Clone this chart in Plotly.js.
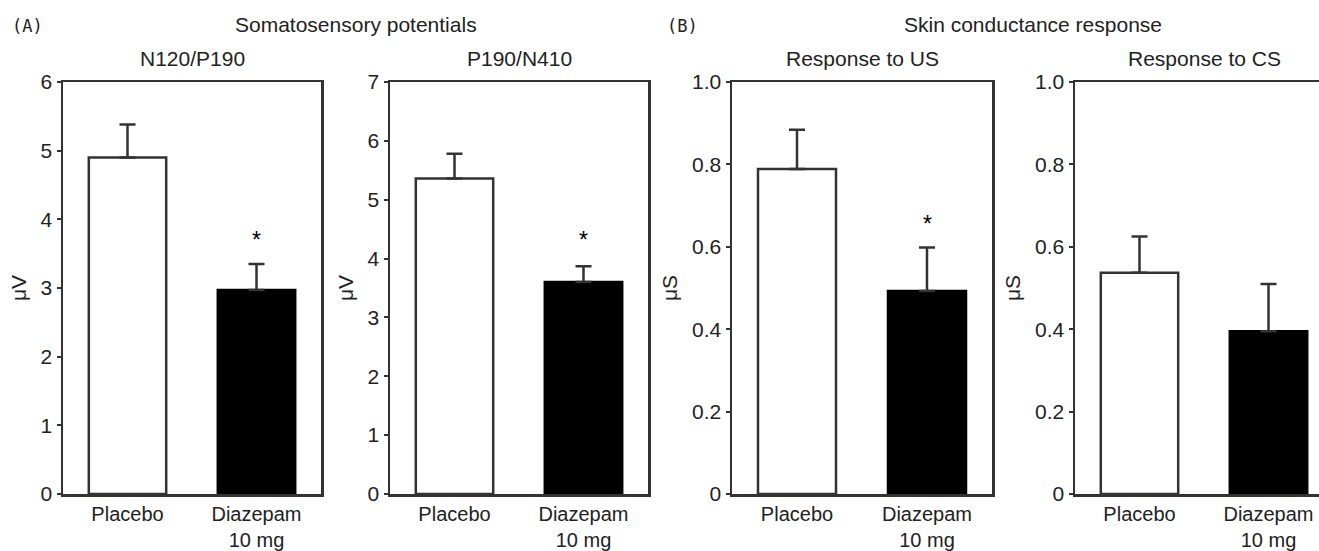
<!DOCTYPE html>
<html>
<head>
<meta charset="utf-8">
<script src="https://cdn.plot.ly/plotly-3.0.1.min.js"></script>
<style>
html, body { margin: 0; padding: 0; overflow: hidden; background: #fff; }
#chart { width: 1340px; height: 551px; }
</style>
</head>
<body>
<div id="chart"></div>
<script>
// ---- data ----
const categories = ["Placebo", "Diazepam<br>10 mg"];

const n120Means = [4.90, 2.97];
const n120Errors = [0.48, 0.38];

const p190Means = [5.36, 3.60];
const p190Errors = [0.42, 0.27];

const usMeans = [0.789, 0.493];
const usErrors = [0.095, 0.105];

const csMeans = [0.537, 0.395];
const csErrors = [0.088, 0.115];

const panelTitles = ["N120/P190", "P190/N410", "Response to US", "Response to CS"];
const groupTitles = ["Somatosensory potentials", "Skin conductance response"];
const panelLetters = ["(A)", "(B)"];
const yUnits = ["μV", "μV", "μS", "μS"];

const uvTicks1 = [0, 1, 2, 3, 4, 5, 6];
const uvTicks2 = [0, 1, 2, 3, 4, 5, 6, 7];
const usTickVals = [0, 0.2, 0.4, 0.6, 0.8, 1.0];
const usTickText = ["0", "0.2", "0.4", "0.6", "0.8", "1.0"];

// significance markers: [panel index, category index, y position]
const starMarks = [[0, 1, 3.70], [1, 1, 4.31], [2, 1, 0.655]];

// ---- layout helpers ----
const W = 1340, H = 551;
const FONT = "Arial, 'Liberation Sans', sans-serif";
const FS = 21;
const TXT = "#222";
const LINE = "#333";
const panelPx = [[63, 321], [390, 648], [732, 992], [1075, 1333]];
const yDom = [(H - 494) / H, (H - 82) / H];

const means = [n120Means, p190Means, usMeans, csMeans];
const errs = [n120Errors, p190Errors, usErrors, csErrors];

const traces = [];
means.forEach((m, i) => {
  const xa = i === 0 ? "x" : "x" + (i + 1);
  const ya = i === 0 ? "y" : "y" + (i + 1);
  traces.push({
    type: "bar",
    x: categories,
    y: m,
    xaxis: xa, yaxis: ya,
    width: 0.6,
    marker: { color: ["#ffffff", "#000000"], line: { color: [LINE, "#000"], width: 2.5 } },
    error_y: {
      type: "data", array: errs[i], arrayminus: [0, 0], symmetric: false,
      color: LINE, thickness: 2.5, width: 8
    },
    hoverinfo: "skip",
    showlegend: false
  });
});

const layout = {
  width: W, height: H,
  margin: { l: 0, r: 0, t: 0, b: 0, pad: 0 },
  paper_bgcolor: "#fff", plot_bgcolor: "#fff",
  font: { family: FONT, size: FS, color: TXT },
  showlegend: false,
  bargap: 0,
  annotations: []
};

const yRanges = [[0, 6], [0, 7], [0, 1], [0, 1]];
panelPx.forEach((p, i) => {
  const k = i === 0 ? "" : String(i + 1);
  layout["xaxis" + k] = {
    domain: [p[0] / W, p[1] / W],
    anchor: "y" + k,
    type: "category",
    range: [-0.5, 1.5],
    showline: true, linecolor: LINE, linewidth: 2.5, mirror: true,
    ticks: "", showgrid: false, zeroline: false,
    tickfont: { family: FONT, size: 20, color: TXT },
    fixedrange: true
  };
  const ya = {
    domain: yDom,
    anchor: "x" + k,
    range: yRanges[i],
    showline: true, linecolor: LINE, linewidth: 2.5, mirror: true,
    ticks: "outside", ticklen: 4, tickwidth: 2, tickcolor: LINE,
    showgrid: false, zeroline: false,
    tickfont: { family: FONT, size: FS, color: TXT },
    title: { text: yUnits[i], font: { family: FONT, size: FS, color: TXT }, standoff: 9 },
    fixedrange: true
  };
  if (i === 0) { ya.tickvals = uvTicks1; }
  else if (i === 1) { ya.tickvals = uvTicks2; }
  else { ya.tickvals = usTickVals; ya.ticktext = usTickText; }
  layout["yaxis" + k] = ya;

  layout.annotations.push({
    xref: "paper", yref: "paper",
    x: (p[0] + p[1]) / 2 / W, y: (H - 58) / H,
    text: panelTitles[i], showarrow: false,
    xanchor: "center", yanchor: "middle",
    font: { family: FONT, size: FS, color: TXT }
  });
});

// group titles
[[panelPx[0][0], panelPx[1][1]], [panelPx[2][0], panelPx[3][1]]].forEach((g, j) => {
  layout.annotations.push({
    xref: "paper", yref: "paper",
    x: (g[0] + g[1]) / 2 / W, y: (H - 24) / H,
    text: groupTitles[j], showarrow: false,
    xanchor: "center", yanchor: "middle",
    font: { family: FONT, size: FS, color: TXT }
  });
});

// panel letters
[10, 665].forEach((px, j) => {
  layout.annotations.push({
    xref: "paper", yref: "paper",
    x: px / W, y: (H - 26) / H,
    text: panelLetters[j], showarrow: false,
    xanchor: "left", yanchor: "middle",
    font: { family: "'DejaVu Sans Mono', monospace", size: 17, color: TXT }
  });
});

// significance stars
starMarks.forEach(s => {
  const k = s[0] === 0 ? "" : String(s[0] + 1);
  layout.annotations.push({
    xref: "x" + k, yref: "y" + k,
    x: categories[s[1]], y: s[2],
    text: "*", showarrow: false,
    xanchor: "center", yanchor: "middle",
    font: { family: FONT, size: 23, color: "#000" }
  });
});

Plotly.newPlot("chart", traces, layout, { displayModeBar: false, staticPlot: true });
</script>
</body>
</html>
